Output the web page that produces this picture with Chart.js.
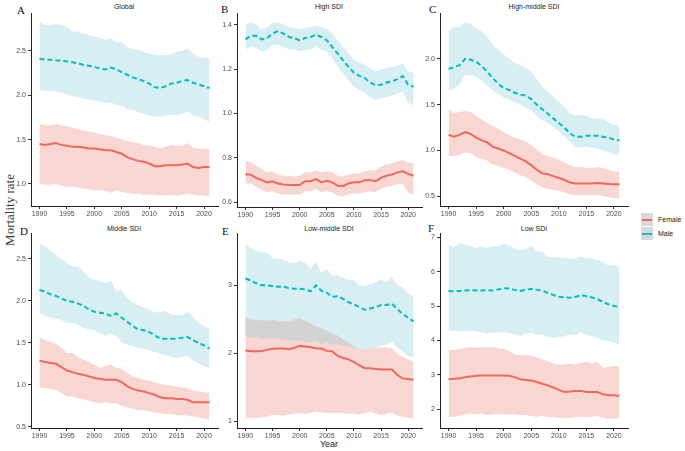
<!DOCTYPE html>
<html lang="en">
  <head>
    <meta charset="UTF-8" />
    <title>Mortality rate by SDI</title>
    <script src="https://cdn.jsdelivr.net/npm/chart.js@4.4.1/dist/chart.umd.min.js"></script>
    <style>
      body { margin: 0; background: #fff; }
      #wrap { position: relative; width: 685px; height: 451px; overflow: hidden; }
      canvas { position: absolute; }
      .txt { position: absolute; white-space: nowrap; color: #222; }
      .title { font: 7px "Liberation Sans", Arial, sans-serif; transform: translate(-50%, -50%); }
      .letter { font: 11px "Liberation Serif", serif; color: #111; }
      .key { position: absolute; width: 12px; height: 13px; background: #d9d9d9; }
      .key span { position: absolute; left: 1px; right: 1px; top: 6px; height: 0; }
    </style>
  </head>
  <body>
    <div id="wrap">
      <div class="txt title" style="left:124px;top:6px">Global</div>
      <div class="txt title" style="left:329px;top:6px">High SDI</div>
      <div class="txt title" style="left:534px;top:6px">High-middle SDI</div>
      <div class="txt title" style="left:124px;top:228px">Middle SDI</div>
      <div class="txt title" style="left:329px;top:228px">Low-middle SDI</div>
      <div class="txt title" style="left:534px;top:228px">Low SDI</div>

      <div class="txt letter" style="left:17px;top:4px">A</div>
      <div class="txt letter" style="left:221px;top:3px">B</div>
      <div class="txt letter" style="left:429px;top:3px">C</div>
      <div class="txt letter" style="left:20px;top:225px">D</div>
      <div class="txt letter" style="left:222px;top:225px">E</div>
      <div class="txt letter" style="left:428px;top:222px">F</div>

      <div class="txt" style="left:10px;top:210px;font:13px 'Liberation Serif',serif;color:#333;transform:translate(-50%,-50%) rotate(-90deg)">Mortality rate</div>
      <div class="txt" style="left:329px;top:444px;font:9px 'Liberation Sans',Arial,sans-serif;transform:translate(-50%,-50%)">Year</div>

      <div class="key" style="left:641px;top:213px"><span style="border-top:2px solid #f0675c"></span></div>
      <div class="key" style="left:641px;top:227px"><span style="border-top:2px dashed #00bfc4"></span></div>
      <div class="txt" style="left:658px;top:216px;font:7px 'Liberation Sans',Arial,sans-serif">Female</div>
      <div class="txt" style="left:658px;top:230px;font:7px 'Liberation Sans',Arial,sans-serif">Male</div>
    </div>
    <script>
      const years = [1990, 1991, 1992, 1993, 1994, 1995, 1996, 1997, 1998, 1999, 2000, 2001, 2002, 2003, 2004, 2005,
        2006, 2007, 2008, 2009, 2010, 2011, 2012, 2013, 2014, 2015, 2016, 2017, 2018, 2019, 2020, 2021]
      const yearTicks = [1990, 1995, 2000, 2005, 2010, 2015, 2020]

      // Global
      const globalMale = [2.41,2.40,2.40,2.39,2.39,2.38,2.37,2.36,2.34,2.33,2.32,2.30,2.29,2.31,2.29,2.26,2.23,2.20,2.18,2.16,2.13,2.09,2.08,2.10,2.13,2.14,2.16,2.17,2.14,2.12,2.10,2.08]
      const globalMaleHi = [2.83,2.79,2.79,2.80,2.79,2.77,2.71,2.72,2.69,2.68,2.66,2.65,2.62,2.64,2.60,2.60,2.54,2.52,2.51,2.49,2.47,2.46,2.45,2.45,2.46,2.49,2.50,2.52,2.47,2.43,2.42,2.42]
      const globalMaleLo = [2.06,2.05,2.05,2.04,2.03,2.01,1.99,1.98,1.96,1.95,1.94,1.93,1.91,1.92,1.89,1.88,1.84,1.83,1.81,1.79,1.77,1.76,1.76,1.77,1.78,1.77,1.79,1.81,1.77,1.76,1.73,1.70]
      const globalFemale = [1.45,1.44,1.45,1.46,1.44,1.43,1.42,1.42,1.41,1.40,1.40,1.39,1.38,1.38,1.36,1.34,1.30,1.28,1.26,1.25,1.23,1.20,1.20,1.21,1.21,1.21,1.22,1.23,1.19,1.18,1.19,1.19]
      const globalFemaleHi = [1.68,1.66,1.66,1.68,1.66,1.65,1.63,1.62,1.60,1.59,1.58,1.56,1.55,1.54,1.52,1.50,1.48,1.47,1.46,1.44,1.43,1.42,1.40,1.42,1.44,1.43,1.43,1.46,1.41,1.40,1.40,1.39]
      const globalFemaleLo = [1.00,0.99,0.99,1.00,0.98,0.97,0.97,0.96,0.95,0.94,0.93,0.93,0.92,0.90,0.93,0.91,0.90,0.89,0.89,0.88,0.88,0.88,0.87,0.87,0.88,0.87,0.88,0.89,0.88,0.87,0.87,0.86]

      // High SDI
      const highMale = [1.334,1.35,1.35,1.334,1.34,1.36,1.372,1.36,1.345,1.34,1.33,1.34,1.345,1.355,1.345,1.33,1.30,1.27,1.24,1.21,1.184,1.17,1.16,1.14,1.128,1.13,1.14,1.145,1.155,1.169,1.13,1.121]
      const highMaleHi = [1.40,1.41,1.40,1.38,1.39,1.41,1.41,1.40,1.39,1.385,1.38,1.385,1.39,1.395,1.39,1.38,1.36,1.33,1.30,1.27,1.24,1.23,1.22,1.205,1.19,1.20,1.205,1.21,1.215,1.226,1.19,1.185]
      const highMaleLo = [1.29,1.30,1.295,1.28,1.285,1.31,1.31,1.30,1.29,1.29,1.28,1.285,1.29,1.30,1.29,1.28,1.25,1.21,1.18,1.15,1.12,1.105,1.095,1.075,1.06,1.07,1.075,1.08,1.09,1.10,1.05,1.035]
      const highFemale = [0.727,0.724,0.71,0.70,0.69,0.695,0.685,0.68,0.678,0.678,0.678,0.695,0.695,0.705,0.69,0.697,0.69,0.675,0.673,0.685,0.69,0.69,0.70,0.70,0.695,0.71,0.72,0.725,0.735,0.74,0.728,0.72]
      const highFemaleHi = [0.785,0.78,0.765,0.75,0.735,0.74,0.725,0.72,0.72,0.715,0.72,0.735,0.735,0.745,0.735,0.74,0.735,0.72,0.715,0.725,0.73,0.73,0.74,0.745,0.745,0.76,0.77,0.775,0.785,0.79,0.78,0.775]
      const highFemaleLo = [0.685,0.685,0.67,0.655,0.645,0.65,0.64,0.635,0.635,0.635,0.635,0.65,0.65,0.66,0.645,0.65,0.645,0.63,0.625,0.635,0.64,0.64,0.645,0.65,0.645,0.66,0.67,0.675,0.68,0.685,0.645,0.635]

      // High-middle SDI
      const hmMale = [1.89,1.91,1.93,2.00,1.99,1.97,1.92,1.86,1.79,1.73,1.68,1.66,1.63,1.61,1.60,1.56,1.50,1.45,1.40,1.35,1.30,1.25,1.19,1.15,1.15,1.16,1.16,1.16,1.15,1.14,1.12,1.11]
      const hmMaleHi = [2.31,2.35,2.35,2.40,2.38,2.33,2.30,2.24,2.16,2.10,2.05,2.00,1.96,1.93,1.90,1.86,1.78,1.70,1.64,1.59,1.53,1.48,1.41,1.38,1.39,1.38,1.35,1.35,1.34,1.31,1.28,1.27]
      const hmMaleLo = [1.66,1.68,1.72,1.82,1.82,1.80,1.76,1.71,1.66,1.62,1.58,1.55,1.53,1.50,1.47,1.44,1.38,1.33,1.30,1.26,1.21,1.15,1.10,1.04,1.03,1.04,1.03,1.02,1.00,0.98,0.96,0.95]
      const hmFemale = [1.17,1.15,1.17,1.20,1.18,1.14,1.11,1.09,1.04,1.02,1.00,0.97,0.94,0.91,0.88,0.84,0.79,0.75,0.74,0.72,0.70,0.68,0.65,0.64,0.64,0.64,0.64,0.645,0.64,0.635,0.63,0.63]
      const hmFemaleHi = [1.45,1.41,1.42,1.43,1.42,1.38,1.34,1.30,1.27,1.24,1.20,1.17,1.14,1.12,1.10,1.06,1.01,0.96,0.94,0.92,0.90,0.87,0.84,0.82,0.82,0.81,0.81,0.82,0.81,0.79,0.77,0.77]
      const hmFemaleLo = [0.94,0.94,0.95,0.98,0.97,0.93,0.91,0.89,0.85,0.83,0.81,0.79,0.76,0.73,0.71,0.67,0.63,0.60,0.58,0.57,0.56,0.54,0.52,0.51,0.51,0.51,0.51,0.51,0.50,0.49,0.48,0.47]

      // Middle SDI
      const midMale = [2.13,2.11,2.08,2.06,2.03,2.00,1.99,1.97,1.94,1.90,1.87,1.86,1.85,1.82,1.85,1.80,1.75,1.70,1.66,1.65,1.63,1.59,1.55,1.55,1.55,1.55,1.56,1.57,1.53,1.50,1.47,1.43]
      const midMaleHi = [2.68,2.65,2.60,2.55,2.50,2.45,2.41,2.41,2.35,2.28,2.25,2.24,2.21,2.24,2.12,2.13,2.03,1.98,1.95,1.92,1.90,1.86,1.87,1.88,1.84,1.83,1.83,1.87,1.81,1.74,1.70,1.67]
      const midMaleLo = [1.86,1.82,1.80,1.79,1.77,1.74,1.74,1.72,1.68,1.66,1.65,1.62,1.58,1.61,1.58,1.50,1.48,1.46,1.44,1.43,1.41,1.39,1.37,1.35,1.33,1.32,1.33,1.35,1.29,1.26,1.22,1.20]
      const midFemale = [1.29,1.27,1.26,1.25,1.21,1.17,1.15,1.13,1.12,1.10,1.08,1.07,1.06,1.06,1.06,1.03,0.98,0.95,0.93,0.92,0.90,0.88,0.85,0.84,0.84,0.83,0.83,0.82,0.79,0.79,0.79,0.79]
      const midFemaleHi = [1.57,1.53,1.51,1.49,1.44,1.38,1.38,1.33,1.30,1.27,1.24,1.20,1.22,1.24,1.20,1.19,1.14,1.10,1.08,1.06,1.05,1.03,1.01,1.00,0.99,0.98,0.97,0.96,0.93,0.92,0.91,0.90]
      const midFemaleLo = [0.97,0.96,0.95,0.94,0.90,0.86,0.86,0.84,0.83,0.81,0.79,0.78,0.79,0.78,0.78,0.75,0.73,0.71,0.70,0.70,0.68,0.67,0.66,0.65,0.65,0.64,0.64,0.63,0.62,0.61,0.60,0.58]

      // Low-middle SDI
      const lmMale = [3.10,3.07,3.03,3.00,3.00,2.99,2.98,2.98,2.96,2.95,2.95,2.94,2.91,3.00,2.92,2.89,2.83,2.84,2.80,2.75,2.72,2.68,2.64,2.66,2.68,2.71,2.71,2.73,2.65,2.58,2.52,2.47]
      const lmMaleHi = [3.61,3.55,3.50,3.49,3.48,3.40,3.39,3.38,3.34,3.33,3.36,3.33,3.25,3.35,3.18,3.24,3.15,3.15,3.11,3.08,3.08,3.00,2.99,3.02,3.05,3.09,3.06,3.12,3.00,2.97,2.88,2.83]
      const lmMaleLo = [2.25,2.23,2.24,2.21,2.22,2.22,2.21,2.20,2.19,2.18,2.19,2.17,2.16,2.20,2.13,2.16,2.12,2.13,2.11,2.10,2.08,2.06,2.05,2.07,2.08,2.11,2.13,2.17,2.08,2.02,1.96,1.93]
      const lmFemale = [2.04,2.03,2.03,2.035,2.05,2.065,2.07,2.07,2.06,2.08,2.11,2.10,2.09,2.075,2.07,2.035,2.03,1.96,1.93,1.91,1.87,1.82,1.78,1.78,1.77,1.76,1.76,1.76,1.68,1.63,1.62,1.61]
      const lmFemaleHi = [2.53,2.50,2.48,2.49,2.48,2.49,2.48,2.47,2.46,2.50,2.51,2.48,2.44,2.39,2.37,2.33,2.30,2.26,2.20,2.16,2.10,2.06,2.05,2.07,2.08,2.09,2.09,2.07,1.99,1.95,1.91,1.88]
      const lmFemaleLo = [1.04,1.05,1.05,1.06,1.07,1.09,1.09,1.08,1.10,1.11,1.12,1.11,1.12,1.14,1.13,1.12,1.12,1.12,1.12,1.11,1.11,1.10,1.12,1.14,1.11,1.09,1.11,1.13,1.08,1.07,1.05,1.03]

      // Low SDI
      const lowMale = [5.44,5.43,5.44,5.45,5.46,5.45,5.45,5.46,5.45,5.48,5.52,5.51,5.47,5.44,5.47,5.50,5.47,5.45,5.38,5.32,5.27,5.25,5.24,5.27,5.31,5.29,5.25,5.20,5.12,5.05,5.00,4.97]
      const lowMaleHi = [6.78,6.72,6.82,6.79,6.74,6.68,6.73,6.70,6.73,6.74,6.82,6.77,6.67,6.62,6.66,6.76,6.60,6.58,6.43,6.42,6.41,6.40,6.38,6.38,6.45,6.38,6.40,6.35,6.28,6.17,6.20,6.12]
      const lowMaleLo = [4.28,4.28,4.27,4.27,4.27,4.26,4.24,4.20,4.23,4.23,4.24,4.22,4.18,4.13,4.20,4.22,4.15,4.18,4.10,4.08,4.10,4.12,4.18,4.15,4.25,4.15,4.12,4.08,4.00,3.98,3.93,3.88]
      const lowFemale = [2.87,2.88,2.90,2.93,2.95,2.97,2.98,2.98,2.98,2.98,2.98,2.97,2.93,2.87,2.85,2.83,2.79,2.74,2.69,2.63,2.56,2.50,2.51,2.53,2.53,2.50,2.50,2.50,2.43,2.40,2.40,2.38]
      const lowFemaleHi = [3.72,3.73,3.75,3.78,3.80,3.79,3.80,3.79,3.80,3.78,3.75,3.70,3.58,3.57,3.57,3.55,3.50,3.45,3.40,3.33,3.29,3.30,3.32,3.30,3.35,3.38,3.33,3.38,3.20,3.23,3.26,3.23]
      const lowFemaleLo = [1.77,1.78,1.80,1.84,1.87,1.85,1.87,1.82,1.85,1.84,1.85,1.84,1.84,1.82,1.83,1.80,1.78,1.81,1.77,1.76,1.75,1.74,1.75,1.77,1.78,1.76,1.78,1.80,1.74,1.73,1.73,1.72]

      // y tick labels per panel
      const globalTicks = ["1.0", "1.5", "2.0", "2.5"]
      const highTicks = ["0.6", "0.8", "1.0", "1.2", "1.4"]
      const hmTicks = ["0.5", "1.0", "1.5", "2.0"]
      const midTicks = ["0.5", "1.0", "1.5", "2.0", "2.5"]
      const lmTicks = ["1", "2", "3"]
      const lowTicks = ["2", "3", "4", "5", "6", "7"]

      const maleColor = "#00bfc4"
      const femaleColor = "#f0675c"
      const maleBand = "#d7eef3"
      const femaleBand = "#f8d7d3"
      const overlapBand = "#d3d3d3"

      // canvas box: left, top, width, height (plot area sits 28px in, 10px down)
      const panels = [
        { male: globalMale, maleHi: globalMaleHi, maleLo: globalMaleLo, female: globalFemale, femaleHi: globalFemaleHi, femaleLo: globalFemaleLo, ticks: globalTicks, min: 0.752, max: 2.925, box: [3, 3, 219, 219] },
        { male: highMale, maleHi: highMaleHi, maleLo: highMaleLo, female: highFemale, femaleHi: highFemaleHi, femaleLo: highFemaleLo, ticks: highTicks, min: 0.579, max: 1.453, box: [209, 3, 217, 220] },
        { male: hmMale, maleHi: hmMaleHi, maleLo: hmMaleLo, female: hmFemale, femaleHi: hmFemaleHi, femaleLo: hmFemaleLo, ticks: hmTicks, min: 0.394, max: 2.50, box: [412, 3, 220, 219] },
        { male: midMale, maleHi: midMaleHi, maleLo: midMaleLo, female: midFemale, femaleHi: midFemaleHi, femaleLo: midFemaleLo, ticks: midTicks, min: 0.484, max: 2.81, box: [3, 223, 219, 221] },
        { male: lmMale, maleHi: lmMaleHi, maleLo: lmMaleLo, female: lmFemale, femaleHi: lmFemaleHi, femaleLo: lmFemaleLo, ticks: lmTicks, min: 0.90, max: 3.77, box: [209, 223, 217, 221] },
        { male: lowMale, maleHi: lowMaleHi, maleLo: lowMaleLo, female: lowFemale, femaleHi: lowFemaleHi, femaleLo: lowFemaleLo, ticks: lowTicks, min: 1.45, max: 7.125, box: [412, 223, 220, 221] },
      ]

      const pts = (arr) => years.map((yr, i) => ({ x: yr, y: arr[i] }))

      function band(arr, order) {
        return { data: pts(arr), borderWidth: 0, borderColor: "transparent", pointRadius: 0, fill: false, order }
      }

      function drawPanel(p) {
        const canvas = document.createElement("canvas")
        const [left, top, w, h] = p.box
        canvas.width = w
        canvas.height = h
        canvas.style.left = left + "px"
        canvas.style.top = top + "px"
        document.getElementById("wrap").appendChild(canvas)

        // where the female interval rises above the male lower bound (grey overlap)
        const overlapHi = p.femaleHi.map((v, i) => Math.max(v, p.maleLo[i]))

        const datasets = [
          band(p.maleLo, 3),
          { ...band(p.maleHi, 3), fill: { target: 0 }, backgroundColor: maleBand },
          band(p.femaleLo, 2),
          { ...band(p.femaleHi, 2), fill: { target: 2 }, backgroundColor: femaleBand },
          band(p.maleLo, 1),
          { ...band(overlapHi, 1), fill: { target: 4 }, backgroundColor: overlapBand },
          { data: pts(p.male), borderColor: maleColor, borderWidth: 2, borderDash: [5, 3], pointRadius: 0, fill: false, order: 0 },
          { data: pts(p.female), borderColor: femaleColor, borderWidth: 2, pointRadius: 0, fill: false, order: 0 },
        ]

        const tickFont = { family: "Liberation Sans", size: 7 }

        new Chart(canvas.getContext("2d"), {
          type: "line",
          data: { datasets },
          options: {
            responsive: false,
            animation: false,
            layout: { padding: { top: 10, right: 4, left: 0, bottom: 0 } },
            plugins: { legend: { display: false }, tooltip: { enabled: false } },
            elements: { line: { tension: 0 } },
            scales: {
              x: {
                type: "linear",
                min: 1988.45,
                max: 2022.55,
                afterBuildTicks: (scale) => { scale.ticks = yearTicks.map((v) => ({ value: v })) },
                afterFit: (scale) => { scale.height = 16 },
                ticks: { autoSkip: false, maxRotation: 0, padding: 1, color: "#4d4d4d", font: tickFont, callback: (v) => String(v) },
                grid: { drawOnChartArea: false, tickLength: 3, color: "#333" },
                border: { color: "#222", width: 1 },
              },
              y: {
                min: p.min,
                max: p.max,
                afterBuildTicks: (scale) => { scale.ticks = p.ticks.map((t) => ({ value: parseFloat(t) })) },
                afterFit: (scale) => { scale.width = 28 },
                ticks: { padding: 2, color: "#4d4d4d", font: tickFont, callback: (v) => p.ticks.find((t) => parseFloat(t) === v) },
                grid: { drawOnChartArea: false, tickLength: 3, color: "#333" },
                border: { color: "#222", width: 1 },
              },
            },
          },
        })
      }

      panels.forEach(drawPanel)
    </script>
  </body>
</html>
